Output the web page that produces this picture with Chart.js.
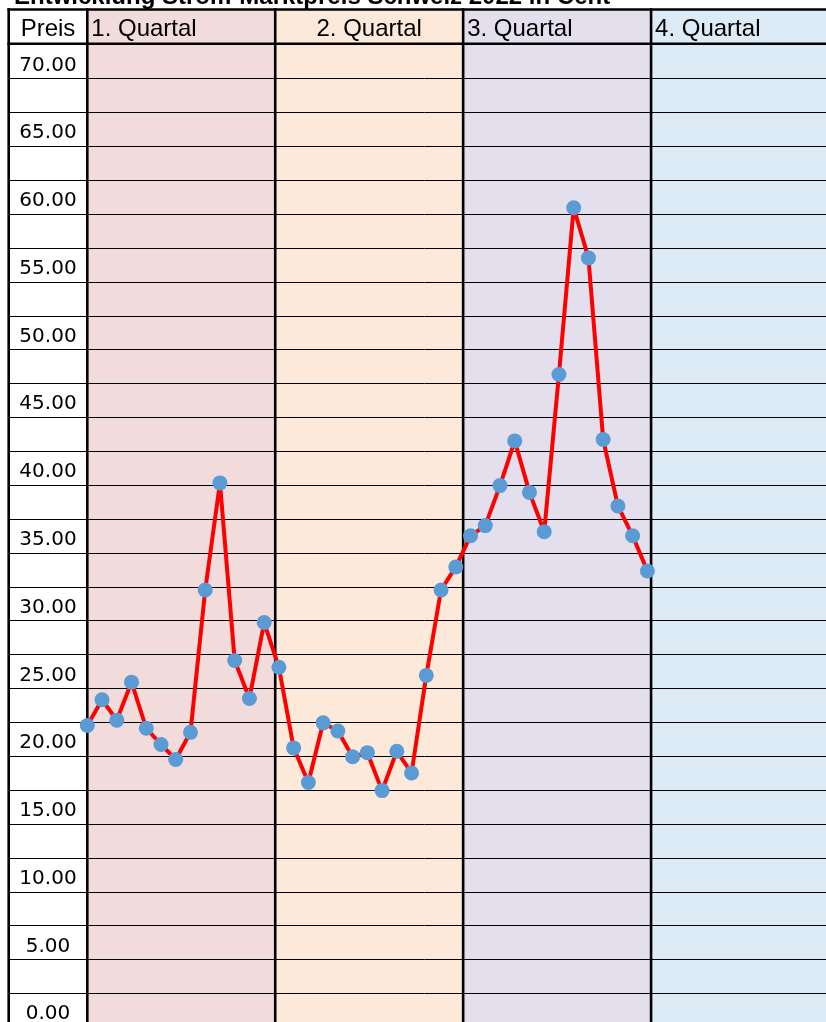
<!DOCTYPE html>
<html><head><meta charset="utf-8">
<script src="https://cdn.jsdelivr.net/npm/chart.js@4.4.1/dist/chart.umd.min.js"></script>
<style>html,body{margin:0;padding:0;overflow:hidden;background:#fff}#wrap{width:826px;height:1022px;overflow:hidden}canvas{display:block}</style>
</head><body><div id="wrap"><canvas id="c" width="840" height="1022" style="width:840px;height:1022px"></canvas></div>
<script>
const titel = 'Entwicklung Strom-Marktpreis Schweiz 2022 in Cent';
const kopfLinks = 'Preis';
const quartale = ['1. Quartal', '2. Quartal', '3. Quartal', '4. Quartal'];
const wochen = [1,2,3,4,5,6,7,8,9,10,11,12,13,14,15,16,17,18,19,20,21,22,23,24,25,26,27,28,29,30,31,32,33,34,35,36,37,38,39];
const preise = [21.0,22.9,21.4,24.2,20.8,19.6,18.5,20.5,31.0,38.9,25.8,23.0,28.6,25.3,
                19.35,16.8,21.2,20.6,18.7,19.0,16.2,19.1,17.5,24.7,31.0,32.7,
                35.0,35.75,38.7,42.0,38.2,35.3,46.9,59.2,55.5,42.1,37.2,35.0,32.4];
const yTicks = [0,5,10,15,20,25,30,35,40,45,50,55,60,65,70];

// styling
const quartalFarben = ['#F2DCDB', '#FDE9D9', '#E4DFEC', '#DDEBF7'];
const quartalAusrichtung = ['left', 'center', 'left', 'left'];
const Y_MAX = 71.25, Y_MIN = -0.87, ZEILE = 2.5;
const X_MIN = 1, X_MAX = 52;

const sheetPlugin = {
  id: 'sheet',
  beforeDraw(chart) {
    const {ctx, scales: {x}} = chart;
    const W = chart.width, H = chart.height;
    ctx.save();
    ctx.fillStyle = '#fff';
    ctx.fillRect(0, 0, W, H);
    const b = quartale.map((q, i) => x.getPixelForValue(X_MIN + i * (X_MAX - X_MIN) / 4));
    b.push(W);
    quartale.forEach((q, i) => {
      ctx.fillStyle = quartalFarben[i];
      ctx.fillRect(b[i], 10, b[i + 1] - b[i], H - 10);
    });
    ctx.restore();
  },
  beforeDatasetsDraw(chart) {
    const {ctx, scales: {x, y}} = chart;
    const W = chart.width, H = chart.height;
    const leftX = 8.7;
    ctx.save();
    ctx.strokeStyle = '#000';
    ctx.lineWidth = 1;
    for (let v = Y_MAX - ZEILE; v > Y_MIN - ZEILE; v -= ZEILE) {
      const py = Math.round(y.getPixelForValue(v)) + 0.5;
      ctx.beginPath(); ctx.moveTo(leftX, py); ctx.lineTo(W, py); ctx.stroke();
    }
    ctx.lineWidth = 2.6;
    const topY = 9.5, hdrY = y.getPixelForValue(Y_MAX) - 0.6;
    [topY, hdrY].forEach(py => { ctx.beginPath(); ctx.moveTo(leftX - 1.3, py); ctx.lineTo(W, py); ctx.stroke(); });
    const b = quartale.map((q, i) => x.getPixelForValue(X_MIN + i * (X_MAX - X_MIN) / 4));
    [leftX, ...b].forEach(px => { ctx.beginPath(); ctx.moveTo(px, topY - 1.3); ctx.lineTo(px, H); ctx.stroke(); });
    ctx.fillStyle = '#000';
    ctx.font = '24px "Liberation Sans", Arial, sans-serif';
    ctx.textBaseline = 'alphabetic';
    ctx.textAlign = 'center';
    ctx.fillText(kopfLinks, (leftX + b[0]) / 2, 36);
    b.push(b[3] + (b[3] - b[2]));
    quartale.forEach((q, i) => {
      if (quartalAusrichtung[i] === 'center') {
        ctx.textAlign = 'center';
        ctx.fillText(q, (b[i] + b[i + 1]) / 2, 36);
      } else {
        ctx.textAlign = 'left';
        ctx.fillText(q, b[i] + 4, 36);
      }
    });
    ctx.font = 'bold 24px "Liberation Sans", Arial, sans-serif';
    ctx.textAlign = 'left';
    ctx.fillText(titel, 14, 4);
    ctx.restore();
  }
};

new Chart(document.getElementById('c'), {
  type: 'line',
  data: {
    datasets: [{
      data: wochen.map((w, i) => ({x: w, y: preise[i]})),
      borderColor: '#FF0000',
      borderWidth: 4,
      borderJoinStyle: 'round',
      pointRadius: 7.5,
      pointHoverRadius: 7.5,
      pointBackgroundColor: '#5B9BD5',
      pointBorderColor: '#5B9BD5',
      pointBorderWidth: 0,
      tension: 0,
      clip: false
    }]
  },
  options: {
    responsive: false,
    animation: false,
    events: [],
    layout: {autoPadding: false, padding: {left: 8, top: 44.4, right: 1, bottom: 0}},
    scales: {
      x: {type: 'linear', min: X_MIN, max: X_MAX, display: false, bounds: 'data'},
      y: {
        type: 'linear', min: Y_MIN, max: Y_MAX,
        afterFit(s) { s.width = 79.3; s.paddingTop = 0; s.paddingBottom = 0; },
        afterBuildTicks(s) { s.ticks = yTicks.map(v => ({value: v})); },
        grid: {display: false, drawTicks: false},
        border: {display: false},
        ticks: {
          autoSkip: false, crossAlign: 'center', padding: 10.7, labelOffset: 4,
          color: '#000', font: {family: '"DejaVu Sans"', size: 20},
          callback: v => Number(v).toFixed(2)
        }
      }
    },
    plugins: {legend: {display: false}, tooltip: {enabled: false}}
  },
  plugins: [sheetPlugin]
});
</script></body></html>
